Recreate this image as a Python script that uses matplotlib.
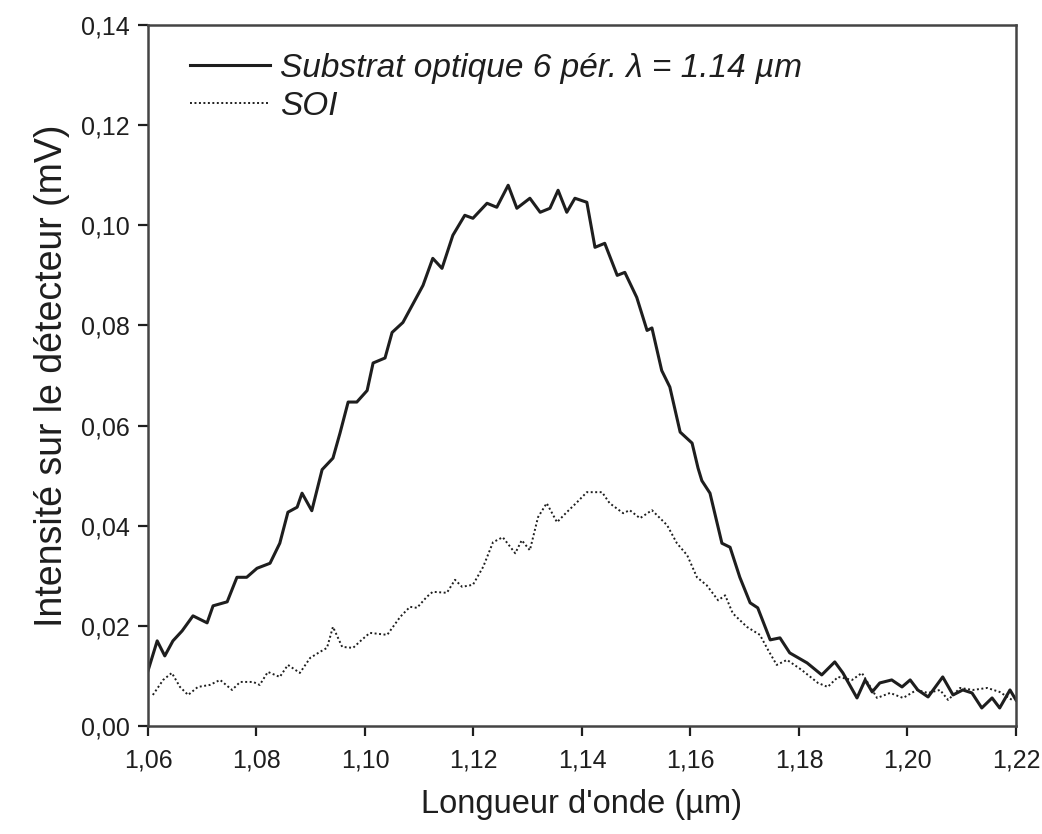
import matplotlib
matplotlib.use("Agg")
from matplotlib import pyplot as plt

plt.rcParams['font.family'] = ['Liberation Sans', 'DejaVu Sans']

# substrat optique 6 periodes (trait plein)
wl_sub = [1.0600, 1.0617, 1.0631, 1.0646, 1.0663, 1.0683, 1.0709, 1.0720, 1.0746, 1.0764,
          1.0782, 1.0801, 1.0825, 1.0843, 1.0858, 1.0875, 1.0884, 1.0902, 1.0921, 1.0941,
          1.0954, 1.0969, 1.0985, 1.1004, 1.1015, 1.1037, 1.1050, 1.1070, 1.1107, 1.1125,
          1.1142, 1.1162, 1.1184, 1.1199, 1.1225, 1.1243, 1.1264, 1.1280, 1.1304, 1.1323,
          1.1341, 1.1356, 1.1372, 1.1387, 1.1409, 1.1424, 1.1442, 1.1465, 1.1479, 1.1501,
          1.1520, 1.1529, 1.1547, 1.1562, 1.1581, 1.1603, 1.1614, 1.1621, 1.1636, 1.1658,
          1.1673, 1.1691, 1.1710, 1.1724, 1.1747, 1.1765, 1.1783, 1.1815, 1.1842, 1.1866,
          1.1881, 1.1907, 1.1922, 1.1935, 1.1949, 1.1971, 1.1990, 1.2005, 1.2019, 1.2038,
          1.2065, 1.2084, 1.2102, 1.2119, 1.2137, 1.2156, 1.2170, 1.2189, 1.2200]
int_sub = [0.0110, 0.0170, 0.0140, 0.0170, 0.0190, 0.0220, 0.0206, 0.0240, 0.0248, 0.0297,
           0.0297, 0.0315, 0.0325, 0.0365, 0.0427, 0.0437, 0.0465, 0.0430, 0.0512, 0.0535,
           0.0585, 0.0647, 0.0647, 0.0670, 0.0725, 0.0735, 0.0786, 0.0806, 0.0880, 0.0934,
           0.0914, 0.0980, 0.1020, 0.1014, 0.1044, 0.1036, 0.1080, 0.1034, 0.1054, 0.1026,
           0.1034, 0.1070, 0.1026, 0.1054, 0.1046, 0.0956, 0.0964, 0.0900, 0.0906, 0.0856,
           0.0790, 0.0795, 0.0710, 0.0677, 0.0587, 0.0565, 0.0515, 0.0490, 0.0465, 0.0365,
           0.0357, 0.0297, 0.0246, 0.0236, 0.0172, 0.0176, 0.0146, 0.0126, 0.0102, 0.0128,
           0.0106, 0.0056, 0.0092, 0.0068, 0.0086, 0.0092, 0.0078, 0.0092, 0.0072, 0.0058,
           0.0098, 0.0062, 0.0072, 0.0066, 0.0036, 0.0056, 0.0036, 0.0072, 0.0052]

# SOI (pointilles)
wl_soi = [1.0609, 1.0628, 1.0644, 1.0659, 1.0674, 1.0692, 1.0714, 1.0733, 1.0755, 1.0770,
          1.0794, 1.0806, 1.0821, 1.0843, 1.0858, 1.0880, 1.0899, 1.0917, 1.0930, 1.0941,
          1.0958, 1.0978, 1.0994, 1.1009, 1.1041, 1.1065, 1.1083, 1.1096, 1.1114, 1.1125,
          1.1151, 1.1166, 1.1179, 1.1199, 1.1218, 1.1236, 1.1254, 1.1277, 1.1289, 1.1304,
          1.1319, 1.1335, 1.1354, 1.1372, 1.1391, 1.1409, 1.1437, 1.1451, 1.1476, 1.1488,
          1.1507, 1.1529, 1.1557, 1.1575, 1.1594, 1.1612, 1.1630, 1.1651, 1.1664, 1.1678,
          1.1704, 1.1728, 1.1743, 1.1759, 1.1778, 1.1805, 1.1835, 1.1853, 1.1872, 1.1898,
          1.1916, 1.1944, 1.1968, 1.1992, 1.2017, 1.2038, 1.2060, 1.2075, 1.2097, 1.2121,
          1.2147, 1.2170, 1.2193]
int_soi = [0.0062, 0.0092, 0.0106, 0.0078, 0.0062, 0.0078, 0.0082, 0.0092, 0.0072, 0.0088,
           0.0088, 0.0082, 0.0108, 0.0098, 0.0122, 0.0106, 0.0136, 0.0148, 0.0156, 0.0198,
           0.0158, 0.0156, 0.0172, 0.0186, 0.0182, 0.0218, 0.0238, 0.0236, 0.0258, 0.0268,
           0.0266, 0.0292, 0.0278, 0.0282, 0.0318, 0.0367, 0.0377, 0.0345, 0.0371, 0.0351,
           0.0417, 0.0445, 0.0407, 0.0427, 0.0447, 0.0467, 0.0467, 0.0445, 0.0425, 0.0431,
           0.0415, 0.0431, 0.0401, 0.0365, 0.0341, 0.0297, 0.0281, 0.0251, 0.0261, 0.0225,
           0.0198, 0.0182, 0.0152, 0.0122, 0.0132, 0.0112, 0.0086, 0.0078, 0.0098, 0.0092,
           0.0106, 0.0056, 0.0066, 0.0056, 0.0072, 0.0066, 0.0072, 0.0052, 0.0076, 0.0072,
           0.0076, 0.0068, 0.0052]

xticks = [1.06, 1.08, 1.10, 1.12, 1.14, 1.16, 1.18, 1.20, 1.22]
xlabels = ['1,06', '1,08', '1,10', '1,12', '1,14', '1,16', '1,18', '1,20', '1,22']
yticks = [0.00, 0.02, 0.04, 0.06, 0.08, 0.10, 0.12, 0.14]
ylabels = ['0,00', '0,02', '0,04', '0,06', '0,08', '0,10', '0,12', '0,14']

ink = '#1e1e1e'

fig = plt.figure(figsize=(10.42, 8.34), dpi=100)
ax = fig.add_axes([0.142, 0.1295, 0.833, 0.8405])

ax.plot(wl_sub, int_sub, color=ink, lw=2.2, label=u'Substrat optique 6 pér. λ = 1.14 µm')
ax.plot(wl_soi, int_soi, color=ink, lw=1.4, linestyle=(0, (1, 1.3)), label='SOI')

ax.set_xlim(1.06, 1.22)
ax.set_ylim(0.0, 0.14)
ax.set_xticks(xticks)
ax.set_xticklabels(xlabels)
ax.set_yticks(yticks)
ax.set_yticklabels(ylabels)
ax.tick_params(direction='out', length=7, width=1.6, colors=ink, labelsize=18, pad=6)
ax.tick_params(axis='x', pad=9)

for s in ax.spines.values():
    s.set_linewidth(1.8)
    s.set_color('#444444')

ax.set_xlabel(u"Longueur d'onde (µm)", fontsize=23.5, color=ink, labelpad=12)
ax.set_ylabel(u'Intensité sur le détecteur (mV)', fontsize=27, color=ink, labelpad=8)

leg = ax.legend(loc='upper left', bbox_to_anchor=(0.048, 0.96), frameon=False,
                fontsize=24, handlelength=2.4, handletextpad=0.3, labelspacing=0.2,
                borderpad=0, borderaxespad=0)
for t in leg.get_texts():
    t.set_fontstyle('italic')
    t.set_color(ink)

fig.savefig('out.png', dpi=100)
